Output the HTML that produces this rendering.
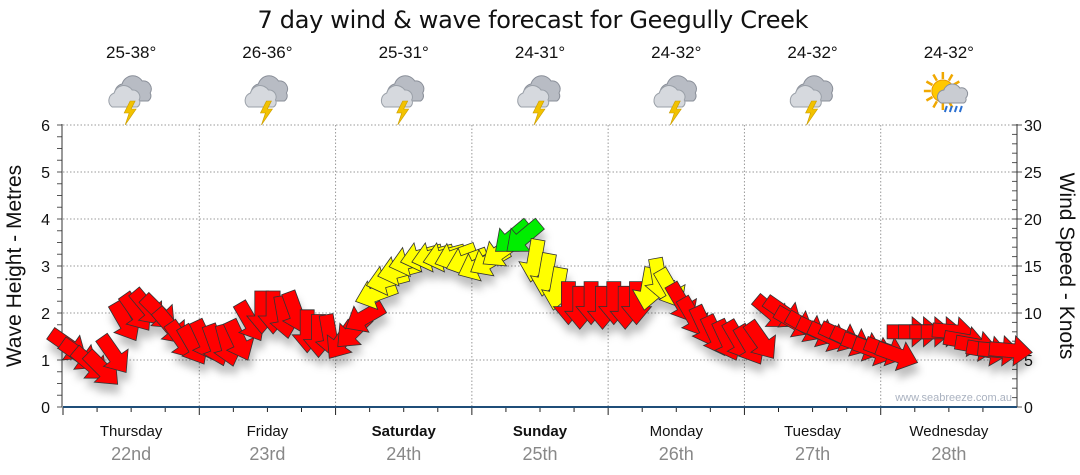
<!DOCTYPE html>
<html><head><meta charset="utf-8"><style>
body{margin:0;background:#fff}
svg{display:block;font-family:"Liberation Sans",sans-serif}
</style></head><body>
<svg id="chart" width="1080" height="475" viewBox="0 0 1080 475">
<defs>
<filter id="sh" x="-50%" y="-50%" width="200%" height="200%"><feDropShadow dx="2" dy="9" stdDeviation="4" flood-color="#000" flood-opacity="0.25"/></filter>
<g id="storm">
<path d="M-14,6 a9,9 0 0 1 2,-17 a11,11 0 0 1 20,-3 a8,8 0 0 1 8,12 a6,6 0 0 1 -2,8 z" fill="#b8bcc4" stroke="#8a8f99"/>
<path d="M-22,12 a8,8 0 0 1 2,-14 a10,10 0 0 1 18,-3 a7,7 0 0 1 7,10 a5,5 0 0 1 -2,7 z" fill="#d6d9de" stroke="#9aa0a8"/>
<path d="M-4,6 l-6,12 l5,0 l-4,12 l11,-16 l-5,0 l4,-8 z" fill="#f2c200" stroke="#c89b00" stroke-width="0.6"/>
</g>
</defs>
<text x="533" y="28" text-anchor="middle" font-family="DejaVu Sans, sans-serif" font-size="24" textLength="551" fill="#111">7 day wind &amp; wave forecast for Geegully Creek</text>
<g id="topg"></g>
<g id="grid"></g>
<g id="axes"></g>
<g id="arrows" filter="url(#sh)"></g>
<text x="1012" y="401" text-anchor="end" font-size="11" fill="#aab2c0">www.seabreeze.com.au</text>
<text transform="translate(21,266) rotate(-90)" text-anchor="middle" font-size="21" fill="#111">Wave Height - Metres</text>
<text transform="translate(1060,266) rotate(90)" text-anchor="middle" font-size="21" fill="#111">Wind Speed - Knots</text>
</svg>
<script>
const days=["Thursday","Friday","Saturday","Sunday","Monday","Tuesday","Wednesday"];
const dates=["22nd","23rd","24th","25th","26th","27th","28th"];
const temps=["25-38°","26-36°","25-31°","24-31°","24-32°","24-32°","24-32°"];
const boldDays=[false,false,true,true,false,false,false];
const waveTicks=[0,1,2,3,4,5,6];
const knotTicks=[0,5,10,15,20,25,30];
const windSpeed=[6.5,5.5,4.5,4,5.5,9,10,10.5,10,8.5,7,6.5,
7,6.5,6.5,7,9,10,10,9.5,10,8,7.5,7.5,
7,8,9.5,12,13.5,14.5,15.5,16,16,16,16,15.5,
15,15.5,16.5,18,18,15.5,14,12.5,11,10.5,11,10.5,
11,10.5,11,12.5,13.5,12.5,11,9.5,8.5,7.5,7,7,
6.5,7,10,10,9,8.5,8,7.5,7.5,7,6.5,6,
6,5.5,8,8,8,8,8,7,6.5,6,6,6];
const windDir=[35,35,40,45,55,60,55,50,45,50,55,60,
65,70,75,65,60,90,90,80,70,90,90,80,
125,135,150,160,165,165,165,165,165,165,160,160,
155,150,145,140,140,100,100,100,90,90,90,90,
90,90,90,100,80,60,60,60,65,65,65,60,
60,55,40,35,30,30,25,25,25,25,20,20,
20,20,0,0,0,0,5,10,10,10,5,5];
const NS="http://www.w3.org/2000/svg";
const X0=63,X1=1017,Y0=407,Y1=125,HOURS=168;
const xT=h=>X0+h*(X1-X0)/HOURS;
const yM=m=>Y0-m*(Y0-Y1)/6;
const yK=k=>Y0-k*(Y0-Y1)/30;
function mk(tag,attrs,parent,txt){const e=document.createElementNS(NS,tag);for(const k in attrs)e.setAttribute(k,attrs[k]);if(txt!==undefined)e.textContent=txt;parent.appendChild(e);return e;}
const grid=document.getElementById('grid'),axes=document.getElementById('axes'),topG=document.getElementById('topg'),arr=document.getElementById('arrows');
waveTicks.forEach(m=>{ if(m>0){const l=mk('line',{x1:X0,x2:X1,y1:yM(m),y2:yM(m),stroke:'#999','stroke-dasharray':'1.5,2'},grid);

}
const t=mk('text',{x:50,y:yM(m)+6,'text-anchor':'end','font-size':16,fill:'#111'},axes,m);

});
for(let q=0;q<=24;q++){const y=yM(q/4);mk('line',{x1:57,x2:62,y1:y,y2:y,stroke:'#555'},axes);}
for(let q=0;q<=30;q++){const y=yK(q);mk('line',{x1:X1-5,x2:X1,y1:y,y2:y,stroke:'#555'},axes);}
knotTicks.forEach(k=>{const t=mk('text',{x:1024,y:yK(k)+6,'font-size':16,fill:'#111'},axes,k);


mk('line',{x1:X1,x2:X1+5,y1:yK(k),y2:yK(k),stroke:'#555'},axes);});
mk('line',{x1:62,x2:62,y1:Y1-1,y2:Y0,stroke:'#333'},axes);
mk('line',{x1:X1,x2:X1,y1:Y1-1,y2:Y0,stroke:'#333'},axes);
for(let d=0;d<7;d++){
 const xs=xT(d*24),xc=xT(d*24+12);
 if(d>0){const g=mk('line',{x1:xs,x2:xs,y1:Y1,y2:Y0,stroke:'#999','stroke-dasharray':'1.5,2'},grid);
 
 }
 for(let q=0;q<4;q++){const x=xT(d*24+q*6);mk('line',{x1:x,x2:x,y1:Y0,y2:q==0?415:412,stroke:'#222'},axes);}
 const dl=mk('text',{x:xc,y:436,'text-anchor':'middle','font-size':15,fill:'#111','font-weight':boldDays[d]?'bold':'normal'},axes,days[d]);
 
 
 const dt=mk('text',{x:xc,y:460,'text-anchor':'middle','font-size':18,fill:'#888'},axes,dates[d]);
 
 
 const tt=mk('text',{x:xc,y:58,'text-anchor':'middle','font-size':17,fill:'#111'},topG,temps[d]);
 
 
 let ic;
 if(d<6){ic=mk('use',{href:'#storm',transform:`translate(${xc+3},95)`},topG);}
 else{ic=mk('g',{transform:`translate(${xc},95)`},topG);
  for(let i=0;i<12;i++){const a=i*Math.PI/6;mk('line',{x1:-6+Math.cos(a)*12,y1:-4+Math.sin(a)*12,x2:-6+Math.cos(a)*19,y2:-4+Math.sin(a)*19,stroke:'#f0a800','stroke-width':2.5},ic);}
  mk('circle',{cx:-6,cy:-4,r:11,fill:'#ffc800',stroke:'#e89a00'},ic);
  mk('path',{d:'M-8,8 a7,7 0 0 1 3,-13 a9,9 0 0 1 16,-2 a6,6 0 0 1 6,10 a4,4 0 0 1 -2,5 z',fill:'#c9ccd2',stroke:'#8a8f99'},ic);
  for(let i=0;i<4;i++)mk('line',{x1:-2+i*5,y1:11,x2:-4+i*5,y2:17,stroke:'#2a6fd0','stroke-width':2},ic);}
 
 
}
mk('line',{x1:X0,x2:X1,y1:Y0,y2:Y0,stroke:'#1f4e79','stroke-width':2},axes);
const shape='M-22,-7 L3,-7 L3,-15 L21,0 L3,15 L3,7 L-22,7 Z';
windSpeed.forEach((k,i)=>{
 const x=xT(i*2+1),y=yK(k);
 const c=k<12?'#ff0000':(k<17?'#ffff00':'#00ee00');
 const p=mk('path',{d:shape,fill:c,stroke:'#333','stroke-width':0.8,'stroke-linejoin':'miter',transform:`translate(${x.toFixed(1)},${y.toFixed(1)}) rotate(${windDir[i]})`},arr);
 
 
});
</script>
</body></html>
